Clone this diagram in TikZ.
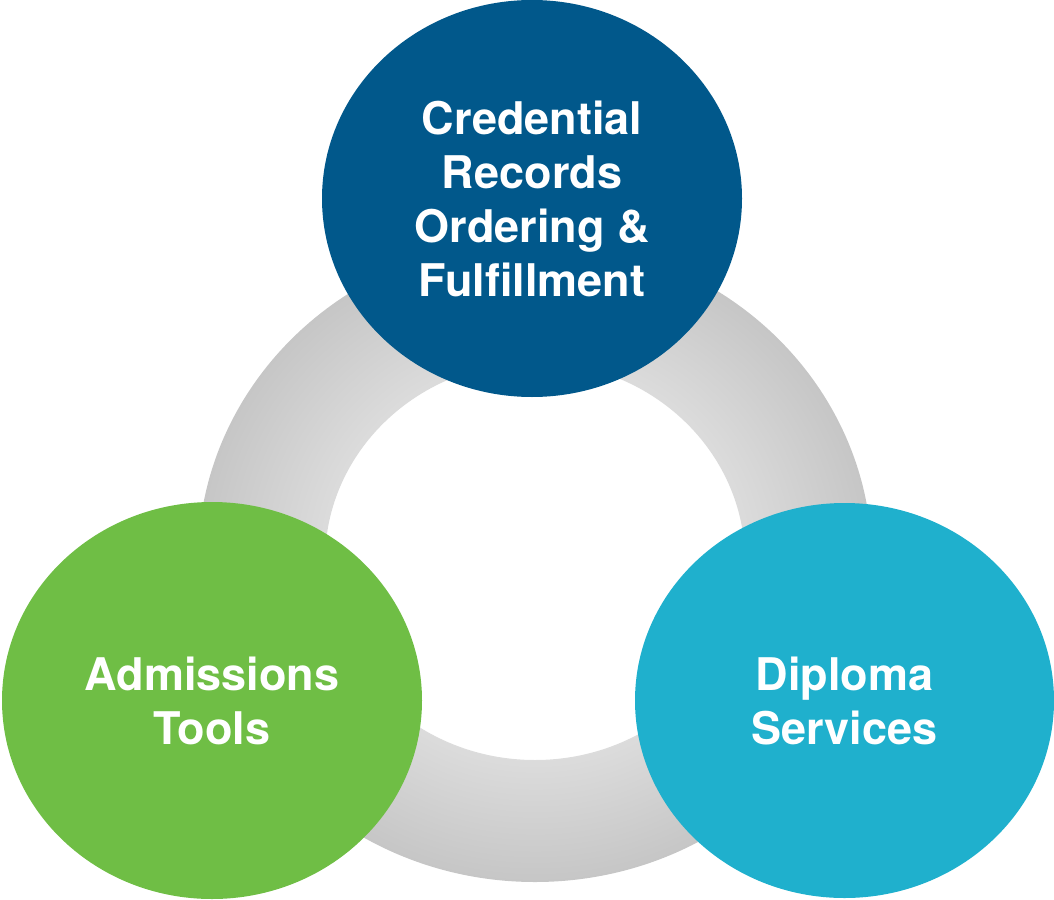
\documentclass[tikz,border=0pt]{standalone}
\usepackage{fontspec}
\setmainfont{TeX Gyre Heros}
\usetikzlibrary{positioning, shapes.geometric}
\definecolor{credblue}{RGB}{1,88,139}
\definecolor{admgreen}{RGB}{111,190,69}
\definecolor{dipcyan}{RGB}{31,176,205}
\definecolor{ringgray}{RGB}{198,198,198}

\begin{document}
\begin{tikzpicture}[x=1pt, y=-1pt,
    bubble/.style={ellipse, minimum width=420pt, minimum height=397pt, inner sep=0pt, text=white, align=center, font=\fontsize{45}{54}\selectfont\bfseries}]
    \useasboundingbox (0,0) rectangle (1054,899);
    % Gray ring behind the three bubbles
    \shade [inner color=white, outer color=ringgray, even odd rule] (535,561) ellipse [x radius=337pt, y radius=321pt] (535,561) ellipse [x radius=210pt, y radius=199pt];
    \node (Cred) [bubble, fill=credblue] at (532,198.5) {Credential\\Records\\Ordering \&\\Fulfillment};
    \node (Adm) [bubble, fill=admgreen] at (212,700.5) {Admissions\\Tools};
    \node (Dip) [bubble, fill=dipcyan, minimum width=419pt, minimum height=395pt] at (844.5,700.5) {Diploma\\Services};
\end{tikzpicture}
\end{document}
